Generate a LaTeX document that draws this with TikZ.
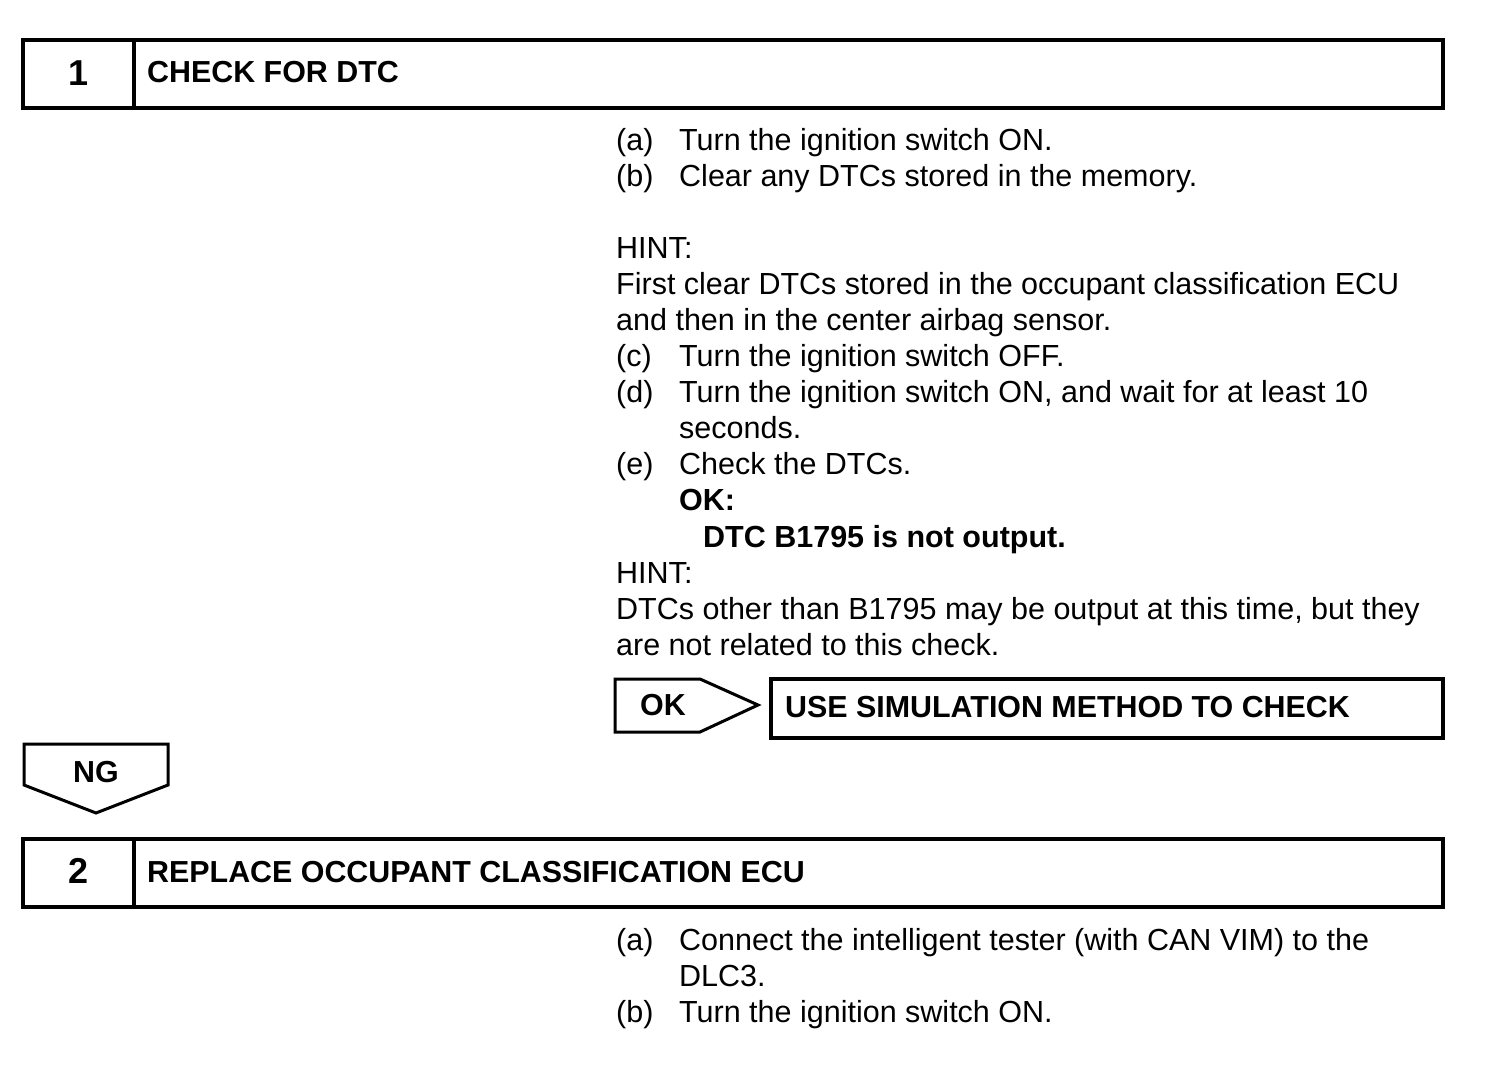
\documentclass[tikz,border=0pt]{standalone}
\usepackage{fontspec}
\setmainfont{Liberation Sans}
\begin{document}
\begin{tikzpicture}[x=1pt,y=-1pt,
  body/.style={anchor=base west,inner sep=0pt,font=\fontsize{30.5}{36}\selectfont},
  bbody/.style={body,font=\fontsize{30.5}{36}\selectfont\bfseries},
  head/.style={anchor=base west,inner sep=0pt,font=\fontsize{30.4}{34}\selectfont\bfseries},
  num/.style={anchor=center,inner sep=0pt,font=\fontsize{36}{40}\selectfont\bfseries},
  frame/.style={draw,line width=3.6pt},
  tag/.style={draw,line width=3pt,line join=miter}]
\useasboundingbox (0,0) rectangle (1504,1084);
% Step 1
\draw[frame] (23,40) rectangle (1443,108);
\draw[frame] (134,40) -- (134,108);
\node[num] (n1) at (79,73) {1};
\node[head] (h1) at (147,82) {CHECK FOR DTC};
% body text step 1
\node[body] (a1l) at (616,150) {(a)};
\node[body] (a1t) at (679,150) {Turn the ignition switch ON.};
\node[body] (b1l) at (616,186) {(b)};
\node[body] (b1t) at (679,186) {Clear any DTCs stored in the memory.};
\node[body] (hint1) at (616,258) {HINT:};
\node[body] (hint1a) at (616,294) {First clear DTCs stored in the occupant classification ECU};
\node[body] (hint1b) at (616,330) {and then in the center airbag sensor.};
\node[body] (c1l) at (616,366) {(c)};
\node[body] (c1t) at (679,366) {Turn the ignition switch OFF.};
\node[body] (d1l) at (616,402) {(d)};
\node[body] (d1t) at (679,402) {Turn the ignition switch ON, and wait for at least 10};
\node[body] (d1u) at (679,438) {seconds.};
\node[body] (e1l) at (616,474) {(e)};
\node[body] (e1t) at (679,474) {Check the DTCs.};
\node[bbody] (ok1) at (679,510) {OK:};
\node[bbody] (ok2) at (703,547) {DTC B1795 is not output.};
\node[body] (hint2) at (616,583) {HINT:};
\node[body] (hint2a) at (616,619) {DTCs other than B1795 may be output at this time, but they};
\node[body] (hint2b) at (616,655) {are not related to this check.};
% OK arrow
\draw[tag] (615,679) -- (700,679) -- (758,705) -- (700,732) -- (615,732) -- cycle;
\node[head] (oktxt) at (640,715) {OK};
\draw[frame] (771,679) rectangle (1443,738);
\node[head] (sim) at (785,717) {USE SIMULATION METHOD TO CHECK};
% NG arrow
\draw[tag] (24,744) -- (168,744) -- (168,785) -- (96,813) -- (24,785) -- cycle;
\node[head] (ngtxt) at (96,782) [anchor=base] {NG};
% Step 2
\draw[frame] (23,839) rectangle (1443,907);
\draw[frame] (134,839) -- (134,907);
\node[num] (n2) at (79,871) {2};
\node[head] (h2) at (147,882) {REPLACE OCCUPANT CLASSIFICATION ECU};
\node[body] (a2l) at (616,950) {(a)};
\node[body] (a2t) at (679,950) {Connect the intelligent tester (with CAN VIM) to the};
\node[body] (a2u) at (679,986) {DLC3.};
\node[body] (b2l) at (616,1022) {(b)};
\node[body] (b2t) at (679,1022) {Turn the ignition switch ON.};
\end{tikzpicture}
\end{document}
